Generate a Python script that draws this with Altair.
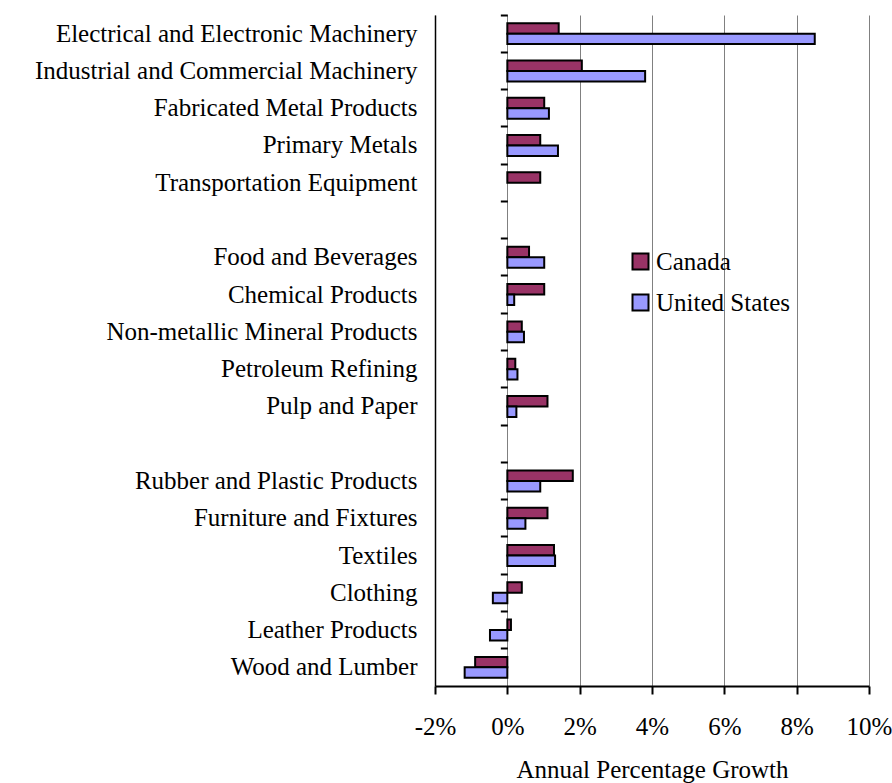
import altair as alt
import pandas as pd

categories = [
    "Electrical and Electronic Machinery",
    "Industrial and Commercial Machinery",
    "Fabricated Metal Products",
    "Primary Metals",
    "Transportation Equipment",
    " ",
    "Food and Beverages",
    "Chemical Products",
    "Non-metallic Mineral Products",
    "Petroleum Refining",
    "Pulp and Paper",
    "  ",
    "Rubber and Plastic Products",
    "Furniture and Fixtures",
    "Textiles",
    "Clothing",
    "Leather Products",
    "Wood and Lumber",
]
industries = [c for c in categories if c.strip()]
canada = [1.42, 2.06, 1.02, 0.91, 0.91, 0.60, 1.02, 0.40, 0.22, 1.11,
          1.81, 1.11, 1.29, 0.40, 0.10, -0.89]
united_states = [8.50, 3.81, 1.15, 1.40, None, 1.02, 0.19, 0.46, 0.28, 0.25,
                 0.91, 0.50, 1.32, -0.40, -0.48, -1.18]
countries = ["Canada", "United States"]
colors = ["#993366", "#9999FF"]
x_ticks = [-2, 0, 2, 4, 6, 8, 10]

rows = []
for ind, c, u in zip(industries, canada, united_states):
    rows.append({"industry": ind, "country": "Canada", "growth": c})
    if u is not None:
        rows.append({"industry": ind, "country": "United States", "growth": u})
df = pd.DataFrame(rows)
cat_df = pd.DataFrame({"industry": categories})

W, H = 434, 671
FONT = "Liberation Serif"
FS = 25

y_scale = alt.Scale(domain=categories, paddingInner=0, paddingOuter=0)
x_scale = alt.Scale(domain=[-2, 10], nice=False, zero=False)

bars = alt.Chart(df).mark_bar(stroke="black", strokeWidth=2).encode(
    x=alt.X(
        "growth:Q",
        scale=x_scale,
        axis=alt.Axis(
            values=x_ticks,
            labelExpr="datum.value + '%'",
            title="Annual Percentage Growth",
            grid=True,
            gridColor="#808080",
            gridWidth=1,
            domainColor="black",
            domainWidth=2,
            tickColor="black",
            tickWidth=2,
            tickSize=8,
            labelPadding=40,
            labelBaseline="alphabetic",
            labelFontSize=FS,
            labelFlush=False,
            titleFontSize=FS,
            titleY=91,
            titleBaseline="alphabetic",
        ),
    ),
    y=alt.Y(
        "industry:N",
        scale=y_scale,
        axis=alt.Axis(
            title=None,
            orient="left",
            ticks=False,
            tickSize=0,
            labelPadding=18,
            domain=True,
            domainColor="black",
            domainWidth=1.5,
            labelFontSize=FS,
            labelLimit=0,
            grid=False,
        ),
    ),
    yOffset=alt.YOffset(
        "country:N",
        scale=alt.Scale(domain=countries, paddingOuter=0.78, paddingInner=0),
    ),
    color=alt.Color(
        "country:N",
        scale=alt.Scale(domain=countries, range=colors),
        legend=alt.Legend(
            title=None,
            orient="none",
            legendX=193,
            legendY=234,
            symbolType="square",
            symbolSize=256,
            symbolStrokeColor="black",
            symbolStrokeWidth=2,
            labelFontSize=FS,
            labelFont=FONT,
            labelColor="black",
            labelOffset=3,
            rowPadding=15,
            padding=0,
        ),
    ),
)

zero = alt.Chart(cat_df).mark_rule(color="black", strokeWidth=2).encode(
    x=alt.datum(0),
    y=alt.Y(
        "industry:N",
        scale=y_scale,
        axis=alt.Axis(
            title=None,
            orient="left",
            offset=-W * 2 / 12,
            bandPosition=0,
            labels=False,
            domain=False,
            ticks=True,
            tickSize=7,
            tickWidth=2,
            tickColor="black",
            grid=False,
        ),
    ),
)

chart = (
    alt.layer(bars, zero)
    .resolve_axis(y="independent")
    .properties(
        width=W,
        height=H,
        padding={"left": 435, "top": 15, "right": 23, "bottom": 97},
        autosize=alt.AutoSizeParams(type="none"),
    )
    .configure_view(stroke=None)
    .configure_axis(
        labelFont=FONT,
        titleFont=FONT,
        labelColor="black",
        titleColor="black",
        titleFontWeight="normal",
    )
)

chart.save("out.html", embed_options={"renderer": "svg", "actions": False})
